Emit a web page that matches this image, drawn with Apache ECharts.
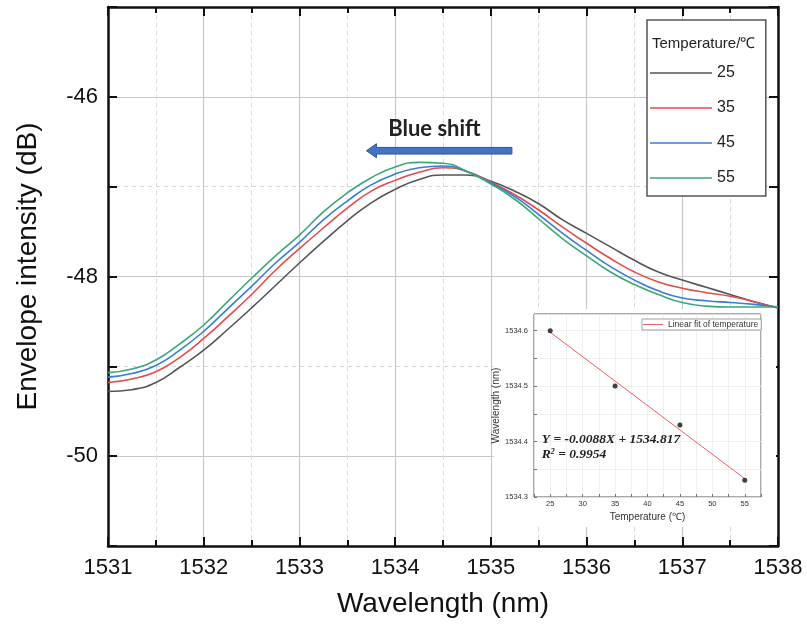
<!DOCTYPE html>
<html>
<head>
<meta charset="utf-8">
<script src="https://cdn.jsdelivr.net/npm/echarts@6/dist/echarts.min.js"></script>
<style>
html,body{margin:0;padding:0;background:#fff;}
#c{width:807px;height:629px;}
</style>
</head>
<body>
<div id="c"></div>
<script>
// ---- data ----
const wavelengths = [1531,1531.25,1531.5,1531.75,1532,1532.25,1532.5,1532.75,1533,1533.25,1533.5,1533.75,1534,1534.25,1534.5,1534.75,1535,1535.25,1535.5,1535.75,1536,1536.25,1536.5,1536.75,1537,1537.25,1537.5,1537.75,1538];
const seriesNames = ['25','35','45','55'];
const t25 = [-49.28,-49.26,-49.18,-49.01,-48.82,-48.59,-48.35,-48.10,-47.85,-47.61,-47.38,-47.18,-47.03,-46.92,-46.87,-46.87,-46.94,-47.05,-47.19,-47.37,-47.52,-47.67,-47.82,-47.95,-48.04,-48.12,-48.20,-48.28,-48.35];
const t35 = [-49.18,-49.14,-49.06,-48.90,-48.69,-48.45,-48.20,-47.93,-47.69,-47.46,-47.24,-47.05,-46.93,-46.84,-46.79,-46.83,-46.95,-47.09,-47.26,-47.45,-47.63,-47.80,-47.95,-48.06,-48.13,-48.18,-48.22,-48.28,-48.35];
const t45 = [-49.12,-49.08,-48.99,-48.82,-48.61,-48.36,-48.11,-47.85,-47.62,-47.37,-47.16,-46.98,-46.86,-46.79,-46.77,-46.83,-46.96,-47.11,-47.31,-47.52,-47.71,-47.89,-48.04,-48.16,-48.24,-48.27,-48.29,-48.31,-48.34];
const t55 = [-49.07,-49.03,-48.93,-48.75,-48.54,-48.28,-48.02,-47.77,-47.54,-47.28,-47.07,-46.90,-46.78,-46.73,-46.74,-46.83,-46.97,-47.14,-47.36,-47.58,-47.77,-47.95,-48.09,-48.20,-48.29,-48.33,-48.34,-48.34,-48.34];
const yTickLabels = [-50,-48,-46];
// inset
const temps = [25,35,45,55];
const peakWl = [1534.60,1534.50,1534.43,1534.33];
const fitX = [25,55];
const fitY = [1534.597,1534.333];
const fitName = 'Linear fit of temperature';

const colors = ['#555555','#e34b4f','#3a7bd5','#3aa876'];
const curves = [t25,t35,t45,t55];

const chart = echarts.init(document.getElementById('c'), null, {renderer:'canvas'});
const FONT = 'Liberation Sans, Arial, sans-serif';

const frameLine = {show:true, onZero:false, lineStyle:{color:'#111', width:2.5}};
const majTick = {show:true, inside:true, length:9, lineStyle:{color:'#111', width:2}};
const minTick = {show:true, splitNumber:2, length:6, lineStyle:{color:'#111', width:2}};

const option = {
  animation:false,
  backgroundColor:'#fff',
  grid:[
    {left:108, right:29, top:7, bottom:83, show:false},
    {left:534, right:46, top:314, bottom:132, show:true, backgroundColor:'#fff', borderColor:'#555', borderWidth:1, z:4}
  ],
  legend:[
    {
      data:seriesNames, orient:'vertical', left:647, top:20, icon:'rect',
      padding:[45,31,10,3], itemGap:19, itemWidth:62, itemHeight:1.6,
      backgroundColor:'#fff', borderColor:'#555', borderWidth:1.5,
      textStyle:{fontSize:16, color:'#222', fontFamily:FONT, lineHeight:16},
      selectedMode:false, z:6
    },
    {
      data:[fitName], orient:'vertical', left:642, top:319, icon:'rect',
      padding:[1,3,1,1], itemWidth:20, itemHeight:1,
      backgroundColor:'#fff', borderColor:'#888', borderWidth:0.8,
      textStyle:{fontSize:8.5, color:'#333', fontFamily:FONT, lineHeight:9},
      selectedMode:false, z:8
    }
  ],
  xAxis:[
    {
      type:'value', gridIndex:0, position:'bottom', min:1531, max:1538, interval:1,
      axisLine:frameLine, axisTick:majTick, minorTick:minTick,
      axisLabel:{fontSize:22, color:'#111', margin:11, fontFamily:FONT, formatter:function(v){return String(v);}},
      splitLine:{show:true, lineStyle:{color:'#c8c8c8', width:1.2}},
      minorSplitLine:{show:true, lineStyle:{color:'#d8d8d8', type:[4,4], width:1}},
      name:'Wavelength (nm)', nameLocation:'middle', nameGap:44,
      nameTextStyle:{fontSize:28, color:'#111', fontFamily:FONT}
    },
    {
      type:'value', gridIndex:0, position:'top', min:1531, max:1538, interval:1,
      axisLine:frameLine, axisTick:majTick, minorTick:minTick,
      axisLabel:{show:false}, splitLine:{show:false}
    },
    {
      type:'value', gridIndex:1, position:'bottom', min:22.5, max:57.5, interval:2.5, z:5,
      axisLine:{show:false}, 
      axisTick:{show:true, inside:true, length:3, lineStyle:{color:'#555', width:0.8}},
      axisLabel:{fontSize:7.5, color:'#333', margin:3, fontFamily:FONT,
        formatter:function(v){return (Math.abs(v/5-Math.round(v/5))<1e-6)?String(v):'';}},
      splitLine:{show:true, lineStyle:{color:'#ececec', width:0.8}},
      name:'Temperature (℃)', nameLocation:'middle', nameGap:15,
      nameTextStyle:{fontSize:10, color:'#333', fontFamily:FONT}
    }
  ],
  yAxis:[
    {
      type:'value', gridIndex:0, position:'left', min:-51, max:-45, interval:1,
      axisLine:frameLine, axisTick:majTick,
      axisLabel:{fontSize:22, color:'#111', margin:10, fontFamily:FONT,
        formatter:function(v){return yTickLabels.indexOf(v)>=0?String(v):'';}},
      splitLine:{show:true, lineStyle:{color:['rgba(0,0,0,0)','#c8c8c8'], width:1.2}},
      name:'Envelope intensity (dB)', nameLocation:'middle', nameGap:66,
      nameTextStyle:{fontSize:28, color:'#111', fontFamily:FONT, padding:[0,0,0,20]}
    },
    {
      type:'value', gridIndex:0, position:'right', min:-51, max:-45, interval:1,
      axisLine:frameLine, axisTick:majTick, axisLabel:{show:false},
      splitLine:{show:true, lineStyle:{color:['#d8d8d8','rgba(0,0,0,0)'], type:[4,4], width:1}}
    },
    {
      type:'value', gridIndex:1, position:'left', min:1534.3, max:1534.63, interval:0.05, z:5,
      axisLine:{show:false},
      axisTick:{show:true, inside:true, length:3, lineStyle:{color:'#555', width:0.8}},
      axisLabel:{fontSize:7.5, color:'#333', margin:6, fontFamily:FONT, showMaxLabel:false,
        formatter:function(v){return (Math.abs(v*10-Math.round(v*10))<1e-6)?v.toFixed(1):'';}},
      splitLine:{show:true, lineStyle:{color:'#ececec', width:0.8}},
      name:'Wavelength (nm)', nameLocation:'middle', nameGap:28,
      nameTextStyle:{fontSize:10, color:'#333', fontFamily:FONT}
    }
  ],
  series: seriesNames.map(function(n,i){
    return {
      name:n, type:'line', xAxisIndex:0, yAxisIndex:0, symbol:'none', smooth:0.5, z:2,
      lineStyle:{color:colors[i], width:1.6}, itemStyle:{color:colors[i]},
      data:wavelengths.map(function(x,j){return [x, curves[i][j]];})
    };
  }).concat([
    {
      name:fitName, type:'line', xAxisIndex:2, yAxisIndex:2, symbol:'none', z:6,
      lineStyle:{color:'#e06666', width:1}, itemStyle:{color:'#e06666'},
      data:fitX.map(function(x,j){return [x, fitY[j]];})
    },
    {
      name:'Peak', type:'scatter', xAxisIndex:2, yAxisIndex:2, symbolSize:5, z:7,
      itemStyle:{color:'#111'},
      data:temps.map(function(x,j){return [x, peakWl[j]];})
    }
  ])
};
chart.setOption(option);

// annotations positioned through the axes
const a1 = chart.convertToPixel({xAxisIndex:0, yAxisIndex:0}, [1535.22, -46.6]);
const a2 = chart.convertToPixel({xAxisIndex:0, yAxisIndex:0}, [1533.70, -46.6]);
const bt = chart.convertToPixel({xAxisIndex:0, yAxisIndex:0}, [1534.41, -46.355]);
const e1 = chart.convertToPixel({xAxisIndex:2, yAxisIndex:2}, [23.7, 1534.404]);
const e2 = chart.convertToPixel({xAxisIndex:2, yAxisIndex:2}, [23.7, 1534.376]);
const ay = a1[1];
chart.setOption({
  graphic:{elements:[
    {type:'rect', z:3, silent:true, shape:{x:494, y:309, width:282, height:218}, style:{fill:'#fff'}},
    {type:'text', z:10, left:652, top:36, style:{text:'Temperature/℃', fontSize:15, fontFamily:FONT, fill:'#222'}},
    {type:'polygon', z:5, shape:{points:[
      [a2[0], ay],[a2[0]+10, ay-7],[a2[0]+10, ay-3.3],[a1[0], ay-3.3],[a1[0], ay+3.3],[a2[0]+10, ay+3.3],[a2[0]+10, ay+7]
    ]}, style:{fill:'#4472c4', stroke:'#2f5597', lineWidth:1}},
    {type:'text', z:5, x:bt[0], y:bt[1], style:{text:'Blue shift', fontSize:22, fontWeight:'bold', fontFamily:'Lato, Open Sans, sans-serif', fill:'#222', align:'center', verticalAlign:'middle'}},
    {type:'text', z:10, x:e1[0], y:e1[1], style:{text:'Y = -0.0088X + 1534.817', fontSize:13.5, fontWeight:'bold', fontStyle:'italic', fontFamily:'Liberation Serif, Times New Roman, serif', fill:'#222', align:'left', verticalAlign:'middle'}},
    {type:'text', z:10, x:e2[0], y:e2[1], style:{
      text:'{a|R}{s|2}{a| = 0.9954}',
      rich:{
        a:{fontSize:13.5, fontWeight:'bold', fontStyle:'italic', fontFamily:'Liberation Serif, Times New Roman, serif', fill:'#222'},
        s:{fontSize:8, fontWeight:'bold', fontStyle:'italic', fontFamily:'Liberation Serif, Times New Roman, serif', fill:'#222', verticalAlign:'top', padding:[0,0,6,0]}
      },
      align:'left', verticalAlign:'middle'}}
  ]}
});
</script>
</body>
</html>
